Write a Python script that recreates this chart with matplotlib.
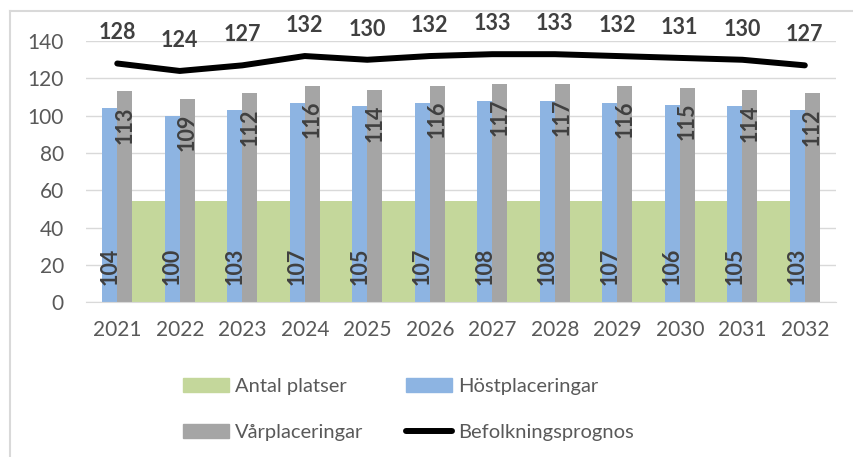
import numpy as np
import matplotlib.pyplot as plt
from matplotlib.patches import Patch
from matplotlib.lines import Line2D

plt.rcParams['font.family'] = ['Lato', 'DejaVu Sans']

# data
years = ['2021', '2022', '2023', '2024', '2025', '2026',
         '2027', '2028', '2029', '2030', '2031', '2032']
antal_platser = [54, 54, 54, 54, 54, 54, 54, 54, 54, 54, 54, 54]
host = [104, 100, 103, 107, 105, 107, 108, 108, 107, 106, 105, 103]
var = [113, 109, 112, 116, 114, 116, 117, 117, 116, 115, 114, 112]
befolkning = [128, 124, 127, 132, 130, 132, 133, 133, 132, 131, 130, 127]

green = '#c4d79b'
blue = '#8db4e2'
gray = '#a5a5a5'
label_col = '#404040'
tick_col = '#595959'

fig = plt.figure(figsize=(8.54, 4.57), dpi=100)
ax = fig.add_axes([0.1007, 0.339, 0.8783, 0.571])

x = np.arange(len(years))
w = 0.24

# area behind the bars
ax.fill_between(x, antal_platser, color=green, linewidth=0, zorder=1)
ax.bar(x - w / 2, host, width=w, color=blue, zorder=2)
ax.bar(x + w / 2, var, width=w, color=gray, zorder=2)
ax.plot(x, befolkning, color='black', linewidth=4.3, solid_capstyle='round', zorder=3)

# data labels
for i in range(len(years)):
    ax.text(x[i] - w / 2, 19, str(host[i]), rotation=90, ha='center', va='center',
            fontsize=15.5, fontweight='bold', color=label_col, zorder=4)
    ax.text(x[i] + w / 2, var[i] - 18, str(var[i]), rotation=90, ha='center', va='center',
            fontsize=15.5, fontweight='bold', color=label_col, zorder=4)
    ax.text(x[i], befolkning[i] + 16.5, str(befolkning[i]), ha='center', va='center',
            fontsize=15.5, fontweight='bold', color=label_col, zorder=4, clip_on=False)

ax.set_xlim(-0.5, len(years) - 0.5)
ax.set_ylim(0, 140)
ax.set_yticks(range(0, 141, 20))
ax.set_xticks(x)
ax.set_xticklabels(years)
ax.tick_params(axis='both', length=0, labelsize=15, colors=tick_col)
ax.tick_params(axis='x', pad=13)
ax.tick_params(axis='y', pad=16)
ax.grid(axis='y', color='#d9d9d9', linewidth=1)
ax.set_axisbelow(True)
for s in ['top', 'right', 'left']:
    ax.spines[s].set_visible(False)
ax.spines['bottom'].set_color('#d9d9d9')

handles = [Patch(color=green), Patch(color=gray), Patch(color=blue),
           Line2D([0], [0], color='black', linewidth=4.3, solid_capstyle='round')]
labels = ['Antal platser', 'Vårplaceringar', 'Höstplaceringar', 'Befolkningsprognos']
leg = fig.legend(handles, labels, ncol=2, loc='upper left',
                 bbox_to_anchor=(183 / 854, 1 - 378 / 457), frameon=False,
                 fontsize=14.5, handlelength=2.3, handleheight=0.7, handletextpad=0.3,
                 labelspacing=1.45, columnspacing=2.1, borderpad=0, borderaxespad=0)
for t in leg.get_texts():
    t.set_color(tick_col)

# outer chart border (top and left visible)
fig.add_artist(Line2D([10 / 854, 1], [1 - 11 / 457, 1 - 11 / 457], color='#d9d9d9', linewidth=1.5))
fig.add_artist(Line2D([10 / 854, 10 / 854], [0, 1 - 11 / 457], color='#d9d9d9', linewidth=1.5))

fig.savefig('out.png', dpi=100)
